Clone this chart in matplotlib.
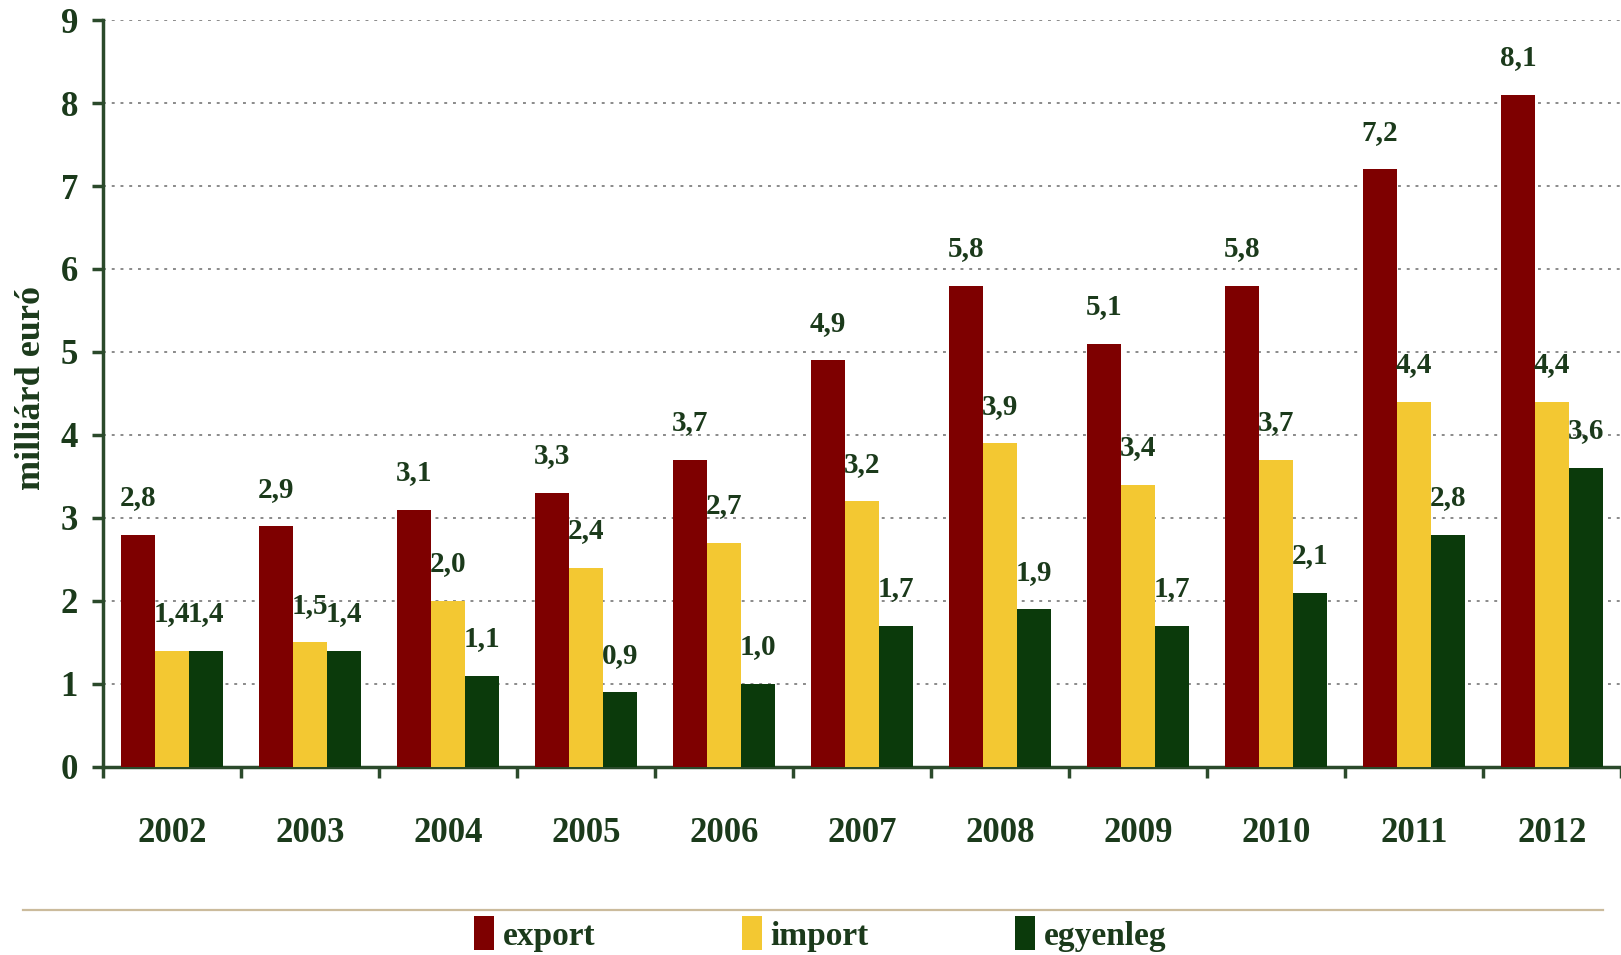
import matplotlib
matplotlib.use('Agg')
import matplotlib.pyplot as plt
import numpy as np
from matplotlib.lines import Line2D

plt.rcParams['font.family'] = ['Liberation Serif', 'DejaVu Serif']
plt.rcParams['font.weight'] = 'bold'
plt.rcParams['axes.labelweight'] = 'bold'

# data
years = ['2002', '2003', '2004', '2005', '2006', '2007', '2008', '2009', '2010', '2011', '2012']
export = [2.8, 2.9, 3.1, 3.3, 3.7, 4.9, 5.8, 5.1, 5.8, 7.2, 8.1]
imports = [1.4, 1.5, 2.0, 2.4, 2.7, 3.2, 3.9, 3.4, 3.7, 4.4, 4.4]
egyenleg = [1.4, 1.4, 1.1, 0.9, 1.0, 1.7, 1.9, 1.7, 2.1, 2.8, 3.6]
series_names = ['export', 'import', 'egyenleg']

# styles
COLORS = ['#7e0000', '#f3c832', '#0b3a0b']
TXT = '#1b3a1b'
AXC = '#2b4a2b'
BAR_W = 0.245

fig = plt.figure(figsize=(16.21, 9.55), dpi=100)
ax = fig.add_axes([0.0635, 0.197, 0.9365, 0.782])

x = np.arange(len(years))
bars = []
for k, (vals, col) in enumerate(zip([export, imports, egyenleg], COLORS)):
    b = ax.bar(x + (k - 1) * BAR_W, vals, BAR_W, color=col, zorder=3,
               label=series_names[k])
    ax.bar_label(b, labels=[f'{v:.1f}'.replace('.', ',') for v in vals],
                 padding=17, fontsize=21, color=TXT, zorder=4)
    bars.append(b)

ax.set_ylim(0, 9)
ax.set_xlim(-0.5, 10.43)
ax.set_yticks(range(0, 10))
ax.yaxis.grid(True, linestyle=(0, (1.5, 3)), color='#8a8a8a', linewidth=1.4, zorder=0)
ax.set_axisbelow(True)

# ticks between groups, labels at group centres
ax.set_xticks(np.arange(-0.5, 11, 1.0))
ax.set_xticklabels([])
ax.set_xticks(x, minor=True)
ax.set_xticklabels(years, minor=True)
ax.tick_params(axis='x', which='major', direction='out', length=8, width=2.5, color=AXC)
ax.tick_params(axis='x', which='minor', length=0, pad=36, labelsize=25, labelcolor=TXT)
ax.tick_params(axis='y', direction='out', length=8, width=2.5, color=AXC,
               pad=10, labelsize=25, labelcolor=TXT)

for s in ['top', 'right']:
    ax.spines[s].set_visible(False)
for s in ['left', 'bottom']:
    ax.spines[s].set_color(AXC)
    ax.spines[s].set_linewidth(2.5)

ax.set_ylabel('milliárd euró', fontsize=26, fontweight='bold', color=TXT)
ax.yaxis.set_label_coords(-0.036, 0.507)

# separator line above legend
fig.add_artist(Line2D([0.014, 0.989], [0.047, 0.047], color='#cbbb9c', linewidth=1.6))

leg = fig.legend(handles=bars, labels=series_names, loc='center',
                 bbox_to_anchor=(0.506, 0.022), ncol=3, frameon=False,
                 fontsize=24, handlelength=0.6, handleheight=1.2,
                 handletextpad=0.25, columnspacing=4.4, borderaxespad=0)
for t in leg.get_texts():
    t.set_color(TXT)

fig.savefig('out.png', dpi=100)
